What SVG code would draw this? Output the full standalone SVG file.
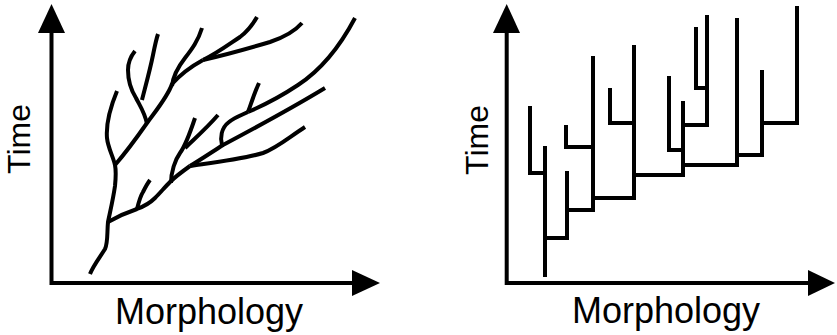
<svg xmlns="http://www.w3.org/2000/svg" width="837" height="335" viewBox="0 0 837 335">
  <style>
    .axis { stroke: #000; stroke-width: 4; fill: none; }
    .head { fill: #000; stroke: none; }
    .branch { stroke: #000; stroke-width: 4; fill: none; stroke-linecap: butt; stroke-linejoin: round; }
    .step { stroke: #000; stroke-width: 4; fill: none; stroke-linecap: square; stroke-linejoin: miter; }
    .label { font-family: "Liberation Sans", Arial, sans-serif; fill: #000; }
  </style>

  <!-- Left panel: gradual branching -->
  <g id="left-axes">
    <path class="axis" d="M51.5,285 L51.5,30 M49.5,283 L355,283"/>
    <polygon class="head" points="51.5,4 38,33 65,33"/>
    <polygon class="head" points="380,283 352,270 352,296"/>
  </g>
  <g id="left-labels">
    <text class="label" font-size="32" text-anchor="middle" transform="translate(29.5,139) rotate(-90)">Time</text>
    <text class="label" font-size="36" x="115" y="324">Morphology</text>
  </g>
  <g id="left-tree">
    <!-- trunk -->
    <path class="branch" d="M90,274 C93,266 100,257 105,249 C108,243 107,232 108,222 C110,212 113,200 115,186 C116,176 116,170 115,165 C113,156 108,148 107,138 C106,126 110,108 117,91"/>
    <!-- upper limb -->
    <path class="branch" d="M115,165 C128,150 140,133 147,123 C158,108 168,96 172,84 C180,75 192,66 203,60"/>
    <path class="branch" d="M203,60 C216,54 228,45 240,37 C248,31 253,24 257,17"/>
    <path class="branch" d="M203,60 C225,55 250,48 270,42 C285,37 295,31 302,23"/>
    <path class="branch" d="M172,86 C173,75 178,67 185,58 C192,49 198,41 202,28"/>
    <path class="branch" d="M147,124 C145,113 140,106 136,98 C131,90 128,80 128,70 C128,62 131,56 135,51"/>
    <path class="branch" d="M142,100 C145,88 150,70 153,55 C155,45 156,40 158,34"/>
    <!-- lower limb -->
    <path class="branch" d="M108,222 C115,218 125,213 137,209 C145,206 150,203 155,198 C160,193 165,187 170,182 C176,176 183,171 190,166"/>
    <path class="branch" d="M137,209 C139,201 141,195 143,192 C145,188 147,184 150,180"/>
    <path class="branch" d="M171,183 C171,172 175,160 180,153 C186,145 191,130 195,118"/>
    <path class="branch" d="M185,148 C193,140 205,130 218,115"/>
    <path class="branch" d="M190,166 C210,163 243,159 263,153 C277,148 288,138 305,127"/>
    <path class="branch" d="M190,166 C200,160 212,152 223,145 C255,128 292,108 325,88"/>
    <path class="branch" d="M222,145 C220,138 221,128 229,122 C235,117 242,115 248,112"/>
    <path class="branch" d="M248,112 C251,104 254,94 259,83"/>
    <path class="branch" d="M248,112 C262,106 280,97 298,85 C318,72 337,52 355,18"/>
  </g>

  <!-- Right panel: punctuated branching -->
  <g id="right-axes">
    <path class="axis" d="M506.7,285 L506.7,30 M504.7,283 L810,283"/>
    <polygon class="head" points="506.7,4 493,33 520,33"/>
    <polygon class="head" points="835,283 808,270 808,296"/>
  </g>
  <g id="right-labels">
    <text class="label" font-size="32" text-anchor="middle" transform="translate(488,140) rotate(-90)">Time</text>
    <text class="label" font-size="36" x="572" y="323">Morphology</text>
  </g>
  <g id="right-tree">
    <path class="step" d="M530,108 L530,173 L545,173"/>
    <path class="step" d="M545,148 L545,275"/>
    <path class="step" d="M545,238 L567,238 L567,173"/>
    <path class="step" d="M567,210 L593,210 L593,58"/>
    <path class="step" d="M566,127 L566,147 L593,147"/>
    <path class="step" d="M593,198 L634,198 L634,47"/>
    <path class="step" d="M610,90 L610,123 L634,123"/>
    <path class="step" d="M634,175 L683,175 L683,103"/>
    <path class="step" d="M669,78 L669,150 L683,150"/>
    <path class="step" d="M683,125 L707,125 L707,17"/>
    <path class="step" d="M696,29 L696,88 L707,88"/>
    <path class="step" d="M683,165 L737,165 L737,20"/>
    <path class="step" d="M737,155 L762,155 L762,72"/>
    <path class="step" d="M762,123 L797,123 L797,8"/>
  </g>
</svg>
